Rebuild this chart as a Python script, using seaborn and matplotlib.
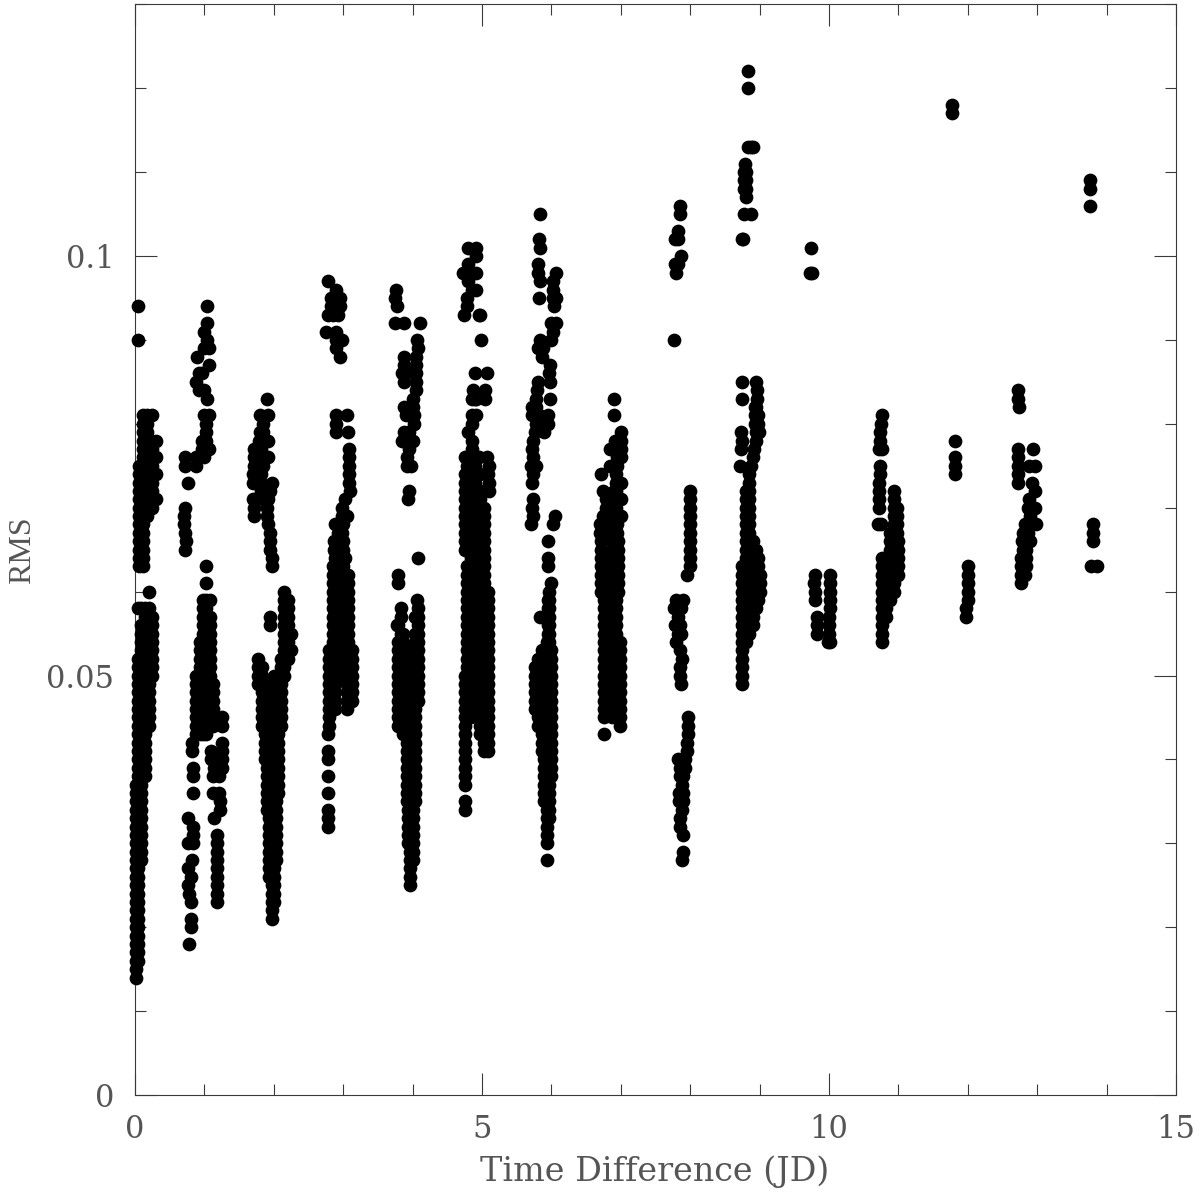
import matplotlib
matplotlib.use("Agg")
import matplotlib.pyplot as plt
import pandas as pd
import seaborn as sns
from matplotlib.ticker import MultipleLocator, FuncFormatter

# Each entry: (time difference in JD, [RMS values in units of 0.001])
night0 = [
 (0.05,[94,90]),
 (0.06,[63,64,65,66,67,68,69,70,71,72,73,74,75]),
 (0.12,[63,64,65,66,67,68,69,70,71,72,73,74,75,76,77,78,79,80,81]),
 (0.18,[69,70,71,72,73,74,75,76,77,78,79,80,81]),
 (0.24,[70,71,72,73,74,75,76,77,78,81]),
 (0.30,[71,74,76,78]),
 (0.02,[14,15,16,17,18,19,20,21,22,23,24,25,26,27,28,29,30,31,32,33,34,35,36,37]),
 (0.05,[16,17,18,19,20,21,22,23,24,25,26,27,28,29,30,31,32,33,34,35,36,37,38,39,40,41,42,43,44,45,46,47,48,49,50,51,52,58]),
 (0.09,[28,29,30,31,32,33,34,35,36,37,38,39,40,41,42,43,44,45,46,47,48,49,50,51,52,53,54,55,56,58]),
 (0.14,[38,39,40,41,42,43,44,45,46,47,48,49,50,51,52,53,54,55,56,57,58]),
 (0.20,[44,45,46,47,48,49,50,51,52,53,54,55,56,57,58,60]),
 (0.25,[50,51,52,53,54,55,56,57]),
]
night1 = [
 (1.04,[94,92,90,83]),
 (1.00,[91,89,84,81,76]),
 (1.07,[89,87,81,77]),
 (0.90,[88]),
 (0.92,[86,84]),
 (0.97,[86,78,77]),
 (0.88,[85,76,75]),
 (1.03,[80,79,78]),
 (0.72,[76,75,70,67,65]),
 (0.76,[73]),
 (0.70,[69,68]),
 (0.74,[66]),
 (0.78,[18,24]),
 (0.80,[20,21,23,26]),
 (0.76,[25,27,30,33]),
 (0.82,[28,41,42]),
 (0.84,[30,31,32]),
 (0.83,[36,38,39]),
 (1.18,[23,24,25,26,27,28,29,30,31]),
 (1.14,[33,39]),
 (1.22,[34,35]),
 (1.13,[36,38]),
 (1.21,[36,38]),
 (1.10,[40,41]),
 (1.25,[39,40,41,42,44,45]),
 (0.88,[43,44,45,46,47,48,49,50]),
 (0.93,[43,44,45,46,47,48,49,50,51,52,53,54]),
 (0.98,[43,44,45,46,47,48,49,50,51,52,53,54,55,56,57,58,59]),
 (1.03,[43,44,45,46,47,48,49,50,51,52,53,54,55,56,57,58,59,61,63]),
 (1.08,[44,45,46,47,48,49,50,51,52,53,54,55,56,57,59]),
 (1.13,[44,45,46,47,48,49]),
]
night2 = [
 (1.90,[83,70,69]),
 (1.80,[81,79]),
 (1.92,[81,78,76,71,68]),
 (1.85,[80,79,75,71]),
 (1.78,[78]),
 (1.72,[77,76,75,70,69]),
 (1.82,[77,76,74,73,72]),
 (1.70,[74,73,71]),
 (1.98,[73,64,63]),
 (1.95,[72,67,66,65,57,56]),
 (1.97,[21,22,23,24,25,26,27,28,29,30,31,32,33,34,35,36,37,38,39,40,41,42,43,44,45,46]),
 (2.00,[23,24,25,26,27,28,29,30,31,32,33,34,35,36,37,38,39,40,41,42,43,44,45,46,47,48,49,50]),
 (1.93,[26,27,28,29,30,31,32,33,34,35,36,37,38,39,40,41,42,43,44,45,46]),
 (1.90,[34,35,36,37,38,39,40,41,42,43,44,45,46,47]),
 (2.03,[28,29,30,31,32,33,34,35,36,37,38,39,40,41,42,43,44,45,46,47]),
 (2.06,[36,37,38,39,40,41,42,43,44,45,46,47]),
 (1.88,[40,41,42,43,44,45,46,47,48,49]),
 (1.83,[44,45,46,47,48,49,50,51]),
 (1.77,[49,50,51,52]),
 (2.10,[44,45,46,47,48,49,50,51,52]),
 (2.15,[50,51,52,53,54,55,56,57,58,59,60]),
 (2.20,[52,53,54,56,57,58,59]),
 (2.25,[53,55]),
]
night3 = [
 (2.78,[97,93]),
 (2.90,[96,91,90,89,81,80,79]),
 (2.82,[95,94]),
 (2.95,[95,94,88]),
 (2.85,[93]),
 (2.93,[93]),
 (2.75,[91]),
 (2.98,[90,70,69,67]),
 (3.06,[81,69]),
 (3.07,[79]),
 (3.08,[77,76,75,74,73]),
 (3.10,[72]),
 (3.02,[71,64]),
 (2.88,[68,64]),
 (2.87,[66,65]),
 (2.78,[32,33,34,36,38,40,41,43]),
 (2.80,[44,45,46,47,48,49,50,51,52,53]),
 (2.85,[50,51,52,53,54,55,56,57,58,59,60,61,62,63]),
 (2.88,[46,47,48,49,50,51,52,53,54,55,56,57,58,59,60]),
 (2.92,[50,51,52,53,54,55,56,57,58,59,60,61,62,63,64,65,66,67,68]),
 (2.96,[55,56,57,58,59,60,61,62,63,64,65,66]),
 (3.00,[52,53,54,55,56,57,58,59,60,61,62,63,64,65,66,68]),
 (3.07,[50,51,52,53,54,55,56,57,58,59,60,61,62]),
 (3.12,[47,48,49,50,51,52,53]),
 (3.06,[46,47,48,49,50,51,52]),
]
night4 = [
 (3.76,[96]),
 (3.75,[95,92]),
 (3.78,[94,56]),
 (3.87,[92,87,82]),
 (4.10,[92]),
 (4.06,[90,59,55]),
 (4.08,[89,64,58,57,56]),
 (3.88,[88,85,79]),
 (4.05,[88,87,86,85,84]),
 (3.85,[86,78]),
 (3.90,[86,81]),
 (4.00,[83,82,78]),
 (4.02,[81,80]),
 (3.95,[79,78,77,72]),
 (3.92,[76,75]),
 (3.98,[75]),
 (3.94,[71]),
 (3.79,[62,61,56,54,53,52,51,50,49,48,47,46,45,44]),
 (3.83,[58,57,55]),
 (3.86,[43,44,45,46,47,48,49,50,51,52,53,54,55]),
 (3.92,[35,36,37,38,39,40,41,42,43,44,45,46,47,48,49,50,51,52]),
 (3.94,[30,31,32,33,34,35,36,37,38,39,40,41,42,43,44,45,46,47,48,49,50]),
 (3.96,[25,26,27,28,29,30,31,32,33,34,35,36,37,38,39,40,41,42,43,44,45,46,47,48,49,50,51,52,53]),
 (4.00,[28,29,30,31,32,33,34,35,36,37,38,39,40,41,42,43,44,45,46,47,48,49,50,51,52,53]),
 (4.04,[35,36,37,38,39,40,41,42,43,44,45,46,47,48,49,50,51,52,53,54,55,57]),
 (4.08,[47,48,49,50,51,52,53,54,55]),
]
night5 = [
 (4.80,[101,99,98,97,79]),
 (4.91,[101,100,98,96]),
 (4.72,[98]),
 (4.85,[96,83,81,80,78,77]),
 (4.78,[95,94,75]),
 (4.74,[93]),
 (4.95,[93,76]),
 (4.97,[93]),
 (4.98,[90]),
 (4.90,[86,83]),
 (5.07,[86,76]),
 (4.87,[84]),
 (5.05,[84,83]),
 (4.92,[83,81]),
 (4.75,[76,74,73,72,71,70,69,68,67,66,65]),
 (5.10,[75,73,72]),
 (5.08,[74]),
 (4.75,[34,35,37,38,39,40,41,42,43,44,45,46,47,48,49,50]),
 (4.78,[50,51,52,53,54,55,56,57,58,59,60,61,62,63]),
 (4.84,[45,46,47,48,49,50,51,52,53,54,55,56,57,58,59,60,61,62,63,64,65,66,67,68,69,70,71,72,73,74,75,76]),
 (4.90,[46,47,48,49,50,51,52,53,54,55,56,57,58,59,60,61,62,63,64,65,66,67,68,69,70,71,72,73,74,75,76]),
 (4.97,[43,44,45,46,47,48,49,50,51,52,53,54,55,56,57,58,59,60,61,62,63,64,65,66,67,68,69,70,71,72,74]),
 (5.03,[41,42,43,44,45,46,47,48,49,50,51,52,53,54,55,56,57,58,59,60,61,62,63,64,65,66,67,68,69,70]),
 (5.09,[41,42,43,44,45,46,47,48,49,50,51,52,53,54,55,56,57,58,59,60]),
]
night6 = [
 (5.83,[105,97]),
 (5.82,[102,95]),
 (5.84,[101,90]),
 (5.80,[99,98,89,85]),
 (6.06,[98,95,92]),
 (6.03,[97,95]),
 (6.02,[96,91,68]),
 (6.04,[94]),
 (6.00,[92,90,61]),
 (5.88,[89]),
 (5.87,[88]),
 (5.98,[87,85,83]),
 (5.96,[86]),
 (5.79,[84]),
 (5.78,[83,82,80,75]),
 (5.72,[82,81,77,73,70]),
 (5.82,[81]),
 (5.95,[81,80,66,64,63,59,58,56,55]),
 (5.85,[80]),
 (5.76,[79]),
 (5.90,[79]),
 (5.74,[78,74]),
 (5.73,[76,71,69]),
 (5.70,[75]),
 (5.71,[68]),
 (6.05,[69]),
 (5.83,[57]),
 (5.93,[28,30,31,32,33,34,35,36,37,38,39,40,41,42,43,44,45,46,47,48,49,50,51,52,53,54]),
 (5.97,[33,34,35,36,37,38,39,40,41,42,43,44,45,46,47,48,49,50,51,52,53,54,55,56,57,58,59,60]),
 (5.90,[35,36,37,38,39,40,41,42,43,44,45,46,47,48,49,50,51,52,53]),
 (5.86,[41,42,43,44,45,46,47,48,49,50,51,52,53]),
 (5.81,[44,45,46,47,48,49,50,51,52]),
 (5.77,[46,47,48,49,50,51]),
 (5.99,[38,39,40,41,42,43,44,45,46,47,48,49,50,51,52,53]),
]
night7 = [
 (6.90,[83,81,72,70]),
 (7.00,[79,78,77,76,73,71,69]),
 (6.91,[78]),
 (6.98,[78]),
 (6.84,[77]),
 (6.95,[77,76,75,69,68,67]),
 (6.85,[75,69,68,67]),
 (6.72,[74,66,65,64,63,62,61,60]),
 (6.93,[74,73,72,71,70,69,68,67,66,65,64,63,62,61,60,59,58,57,56,55,54,53,52,51]),
 (6.75,[72,69]),
 (6.78,[71,70]),
 (6.92,[71]),
 (6.70,[68,67]),
 (6.76,[43,45,46,47,48,49,50,51,52,53,54,55,56,57,58,59,60]),
 (6.80,[50,51,52,53,54,55,56,57,58,59,60,61,62]),
 (6.88,[45,46,47,48,49,50,51,52,53,54,55,56,57,58,59,60,61,62,63,64,65,66]),
 (6.99,[44,45,46,47,48,49,50,51,52,53,54]),
 (6.96,[60,61,62,63,64,65,66]),
]
night8 = [
 (7.86,[106,105]),
 (7.82,[103,102,99]),
 (7.78,[102,99]),
 (7.87,[100]),
 (7.80,[98]),
 (7.77,[90,58]),
 (8.00,[72,71,70,69,68,67,66,65,64]),
 (7.99,[63]),
 (7.95,[62,42,41]),
 (7.80,[59,54]),
 (7.90,[59,38,36,35,31,29]),
 (7.87,[58,55,49]),
 (7.82,[57,55,40]),
 (7.78,[56]),
 (7.85,[56,53,51,50,39,33,32]),
 (7.88,[52,37,34,28]),
 (7.97,[45,44,43]),
 (7.92,[40,39]),
 (7.86,[38]),
 (7.84,[36,35]),
]
night9 = [
 (8.83,[122,120,113]),
 (8.87,[113]),
 (8.90,[113]),
 (8.79,[111]),
 (8.78,[110,109,108,105]),
 (8.81,[110]),
 (8.80,[109,108,107]),
 (8.88,[105]),
 (8.76,[102]),
 (8.74,[102]),
 (8.75,[85,83]),
 (8.95,[85,82,79,78]),
 (8.96,[84,83]),
 (8.93,[82,81,80]),
 (8.97,[81,80]),
 (8.73,[79,77]),
 (8.99,[79]),
 (8.74,[78]),
 (8.92,[77]),
 (8.90,[76]),
 (8.72,[75]),
 (8.88,[75]),
 (8.75,[49,50,51,52,53,54,55,56,57,58,59,60,61,62,63]),
 (8.80,[54,55,56,57,58,59,60,61,62,63,64,65,66,67,68,69,70,71,72]),
 (8.85,[55,56,57,58,59,60,61,62,63,64,65,66,67,68,69,70,71,72,73,74]),
 (8.90,[56,57,58,59,60,61,62,63,64,65,66]),
 (8.95,[58,59,60,61,62,63,64,65]),
 (8.98,[59,60,61,62,63,64]),
 (9.00,[60,61,62]),
]
night10 = [
 (9.74,[101]),
 (9.72,[98]),
 (9.76,[98]),
 (9.80,[62,60,59]),
 (9.79,[61]),
 (9.82,[57]),
 (9.83,[56,55]),
 (10.02,[62,61,60,59,58,54]),
 (10.00,[57,56,55]),
 (9.98,[54]),
]
night11 = [
 (10.76,[81,77,54,55,56,57,58,59,60,61,62,63,64]),
 (10.75,[80,68]),
 (10.74,[79,78,75,74]),
 (10.72,[77,73,72,71,70]),
 (10.70,[68]),
 (10.82,[57,58,59,60,61,62,63,64]),
 (10.88,[59,60,61,62,63,64,65,66,67]),
 (10.94,[60,61,62,63,64,65,66,67,68,69,70,71,72]),
 (10.98,[62,63,64,65,66,67,68,69,70]),
 (11.00,[62,63,64,65,66]),
]
night12 = [
 (11.77,[118,117]),
 (11.81,[78,76,75,74]),
 (12.01,[63]),
 (12.00,[62,61,60,59]),
 (11.98,[58]),
 (11.97,[57]),
]
night13 = [
 (12.73,[84,83]),
 (12.74,[82]),
 (12.72,[77,76,75,74,73]),
 (12.94,[77]),
 (12.88,[75,71]),
 (12.97,[75,72,70]),
 (12.93,[73]),
 (12.87,[70,67]),
 (12.90,[69,66]),
 (12.83,[68,66]),
 (12.98,[68]),
 (12.80,[67,65]),
 (12.78,[66]),
 (12.84,[65,64,63]),
 (12.76,[64,63,62,61]),
 (12.82,[62]),
]
night14 = [
 (13.76,[109,108,106]),
 (13.80,[68,67]),
 (13.81,[66]),
 (13.77,[63]),
 (13.86,[63]),
]
nights = [night0, night1, night2, night3, night4, night5, night6, night7,
          night8, night9, night10, night11, night12, night13, night14]

time_diff, rms = [], []
for night in nights:
    for t, values in night:
        for v in values:
            time_diff.append(t)
            rms.append(v / 1000)
df = pd.DataFrame({"Time Difference (JD)": time_diff, "RMS": rms})

sns.set_style("white")
plt.rcParams["font.family"] = ["DejaVu Serif", "Liberation Serif"]

fig = plt.figure(figsize=(12, 11.95), dpi=100)
ax = fig.add_axes([135 / 1200, 1 - 1095 / 1195, 1041 / 1200, 1091 / 1195])
sns.scatterplot(data=df, x="Time Difference (JD)", y="RMS", ax=ax, color="black",
                s=98, linewidth=0, clip_on=False, zorder=3, legend=False)

ax.set_xlim(0, 15)
ax.set_ylim(0, 1091 / 8390)
ax.xaxis.set_major_locator(MultipleLocator(5))
ax.xaxis.set_minor_locator(MultipleLocator(1))
ax.yaxis.set_major_locator(MultipleLocator(0.05))
ax.yaxis.set_minor_locator(MultipleLocator(0.01))
ax.xaxis.set_major_formatter(FuncFormatter(lambda v, _: f"{v:g}"))
ax.yaxis.set_major_formatter(FuncFormatter(lambda v, _: f"{v:g}"))
ink = "#3a3a3a"
text_ink = "#555555"
ax.tick_params(which="major", direction="in", length=16, width=0.8, color=ink,
               top=True, right=True, left=True, bottom=True,
               labelsize=22, labelcolor=text_ink)
ax.tick_params(axis="x", which="major", pad=14)
ax.tick_params(axis="y", which="major", pad=15)
ax.tick_params(which="minor", direction="in", length=8, width=0.8, color=ink,
               top=True, right=True, left=True, bottom=True)
for side in ax.spines.values():
    side.set_linewidth(0.8)
    side.set_color(ink)

ax.set_xlabel("Time Difference (JD)", fontsize=24, color=text_ink, va="top")
ax.xaxis.set_label_coords(0.4995, -(1155 - 1095) / 1091)
ax.set_ylabel("RMS", fontsize=23, family="Liberation Serif", color=text_ink, va="center")
ax.yaxis.set_label_coords((23 - 135) / 1041, 0.4995)
fig.savefig("out.png", dpi=100)
